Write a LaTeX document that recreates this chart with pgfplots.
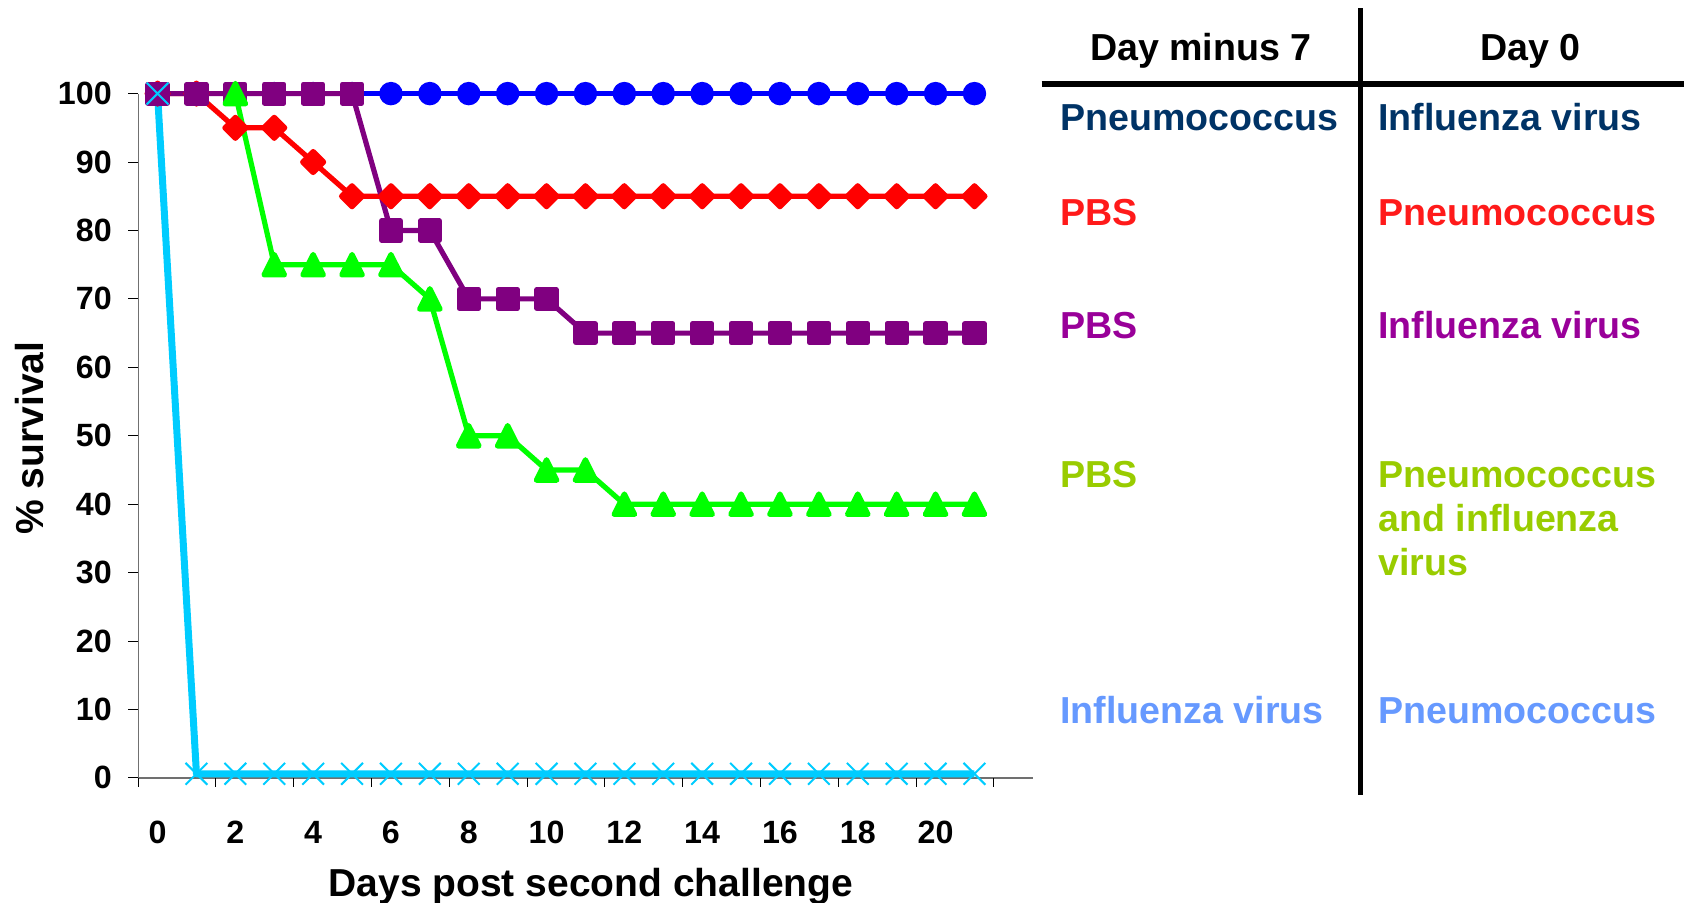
\documentclass[border=0pt]{standalone}
\usepackage{fontspec}
\setmainfont{Liberation Sans}
\usepackage{pgfplots}
\pgfplotsset{compat=1.18}
\definecolor{sBlue}{RGB}{0,0,255}
\definecolor{sRed}{RGB}{255,0,0}
\definecolor{sPurple}{RGB}{128,0,128}
\definecolor{sGreen}{RGB}{0,255,0}
\definecolor{sCyan}{RGB}{0,204,255}
\definecolor{tBlue}{RGB}{0,51,102}
\definecolor{tRed}{RGB}{255,26,26}
\definecolor{tPurple}{RGB}{153,0,153}
\definecolor{tGreen}{RGB}{153,204,0}
\definecolor{tLight}{RGB}{102,153,255}
\definecolor{axgray}{RGB}{112,112,112}
\begin{document}
\begin{tikzpicture}
\useasboundingbox (0,0) rectangle (842pt,451pt);
\begin{axis}[
  at={(69.05pt,62.05pt)}, anchor=south west,
  scale only axis, width=447.35pt, height=342.15pt,
  xmin=-0.5, xmax=22.5, ymin=0, ymax=100,
  axis lines*=left,
  axis line style={axgray, line width=0.6pt},
  clip=false,
  tick align=outside,
  major tick length=0pt,
  xtick={0,2,...,20},
  ytick={0,10,...,100},
  extra x ticks={-0.5,1.5,...,21.5},
  extra x tick labels={},
  extra x tick style={major tick length=4.5pt, tick style={black, line width=0.5pt}},
  extra y ticks={0,10,...,100},
  extra y tick labels={},
  extra y tick style={major tick length=5pt, tick style={black, line width=0.5pt}},
  /pgf/number format/assume math mode=true,
  tick label style={font=\fontsize{16.1}{18}\selectfont\bfseries, inner sep=0pt},
  xticklabel style={anchor=base, yshift=-32.8pt},
  yticklabel style={anchor=east, xshift=-13.0pt},
  xlabel={Days post second challenge},
  ylabel={\% survival},
  label style={font=\fontsize{19.5}{22}\selectfont\bfseries, inner sep=0pt},
  xlabel style={at={(axis description cs:0.506,-0.174)}, anchor=base},
  ylabel style={at={(axis description cs:-0.1208,0.4967)}, anchor=center},
  every axis plot/.append style={line join=round},
]
% Pneumococcus -> Influenza virus
\addplot[sBlue, line width=2.2pt, mark=*, mark size=4.75pt, mark options={draw=none, fill=sBlue}] coordinates {
(0,100)(1,100)(2,100)(3,100)(4,100)(5,100)(6,100)(7,100)(8,100)(9,100)(10,100)
(11,100)(12,100)(13,100)(14,100)(15,100)(16,100)(17,100)(18,100)(19,100)(20,100)(21,100)};
% PBS -> Pneumococcus
\addplot[sRed, line width=2.6pt, mark=square*, mark size=3.7pt, mark options={rotate=45, draw=none, fill=sRed}] coordinates {
(0,100)(1,100)(2,95)(3,95)(4,90)(5,85)(6,85)(7,85)(8,85)(9,85)(10,85)
(11,85)(12,85)(13,85)(14,85)(15,85)(16,85)(17,85)(18,85)(19,85)(20,85)(21,85)};
% PBS -> Influenza virus
\addplot[sPurple, line width=2.6pt, mark=square*, mark size=4.75pt, mark options={draw=none, fill=sPurple}] coordinates {
(0,100)(1,100)(2,100)(3,100)(4,100)(5,100)(6,80)(7,80)(8,70)(9,70)(10,70)
(11,65)(12,65)(13,65)(14,65)(15,65)(16,65)(17,65)(18,65)(19,65)(20,65)(21,65)};
% PBS -> Pneumococcus and influenza virus
\addplot[sGreen, line width=2.6pt, mark=triangle*, mark size=5.9pt, mark options={yshift=-1.7pt, yscale=1.15, draw=none, fill=sGreen}] coordinates {
(2,100)(3,75)(4,75)(5,75)(6,75)(7,70)(8,50)(9,50)(10,45)
(11,45)(12,40)(13,40)(14,40)(15,40)(16,40)(17,40)(18,40)(19,40)(20,40)(21,40)};
% Influenza virus -> Pneumococcus
\addplot[sCyan, line width=3.5pt, mark=x, mark size=7.7pt, mark options={line width=1pt, sCyan}] coordinates {
(0,100)(1,0.6)(2,0.6)(3,0.6)(4,0.6)(5,0.6)(6,0.6)(7,0.6)(8,0.6)(9,0.6)(10,0.6)
(11,0.6)(12,0.6)(13,0.6)(14,0.6)(15,0.6)(16,0.6)(17,0.6)(18,0.6)(19,0.6)(20,0.6)(21,0.6)};
\end{axis}
% table
\draw[black, line width=2.6pt] (680.35pt,446.85pt) -- (680.35pt,53.5pt);
\draw[black, line width=2.85pt] (520.85pt,408.85pt) -- (842pt,408.85pt);
\tikzset{tt/.style={inner sep=0pt, font=\fontsize{18.8}{22}\selectfont\bfseries}}
\node[tt, anchor=base] at (600.4pt,420.65pt) {Day minus 7};
\node[tt, anchor=base] at (765.25pt,420.65pt) {Day 0};
\node[tt, anchor=base west, text=tBlue] at (530pt,386pt) {Pneumococcus};
\node[tt, anchor=base west, text=tBlue] at (689pt,386pt) {Influenza virus};
\node[tt, anchor=base west, text=tRed] at (530pt,338.5pt) {PBS};
\node[tt, anchor=base west, text=tRed] at (689pt,338.5pt) {Pneumococcus};
\node[tt, anchor=base west, text=tPurple] at (530pt,281.85pt) {PBS};
\node[tt, anchor=base west, text=tPurple] at (689pt,281.85pt) {Influenza virus};
\node[tt, anchor=base west, text=tGreen] at (530pt,207.35pt) {PBS};
\node[tt, anchor=base west, text=tGreen] at (689pt,207.35pt) {Pneumococcus};
\node[tt, anchor=base west, text=tGreen] at (689pt,185.15pt) {and influenza};
\node[tt, anchor=base west, text=tGreen] at (689pt,163.5pt) {virus};
\node[tt, anchor=base west, text=tLight] at (530pt,89.35pt) {Influenza virus};
\node[tt, anchor=base west, text=tLight] at (689pt,89.35pt) {Pneumococcus};
\end{tikzpicture}
\end{document}
